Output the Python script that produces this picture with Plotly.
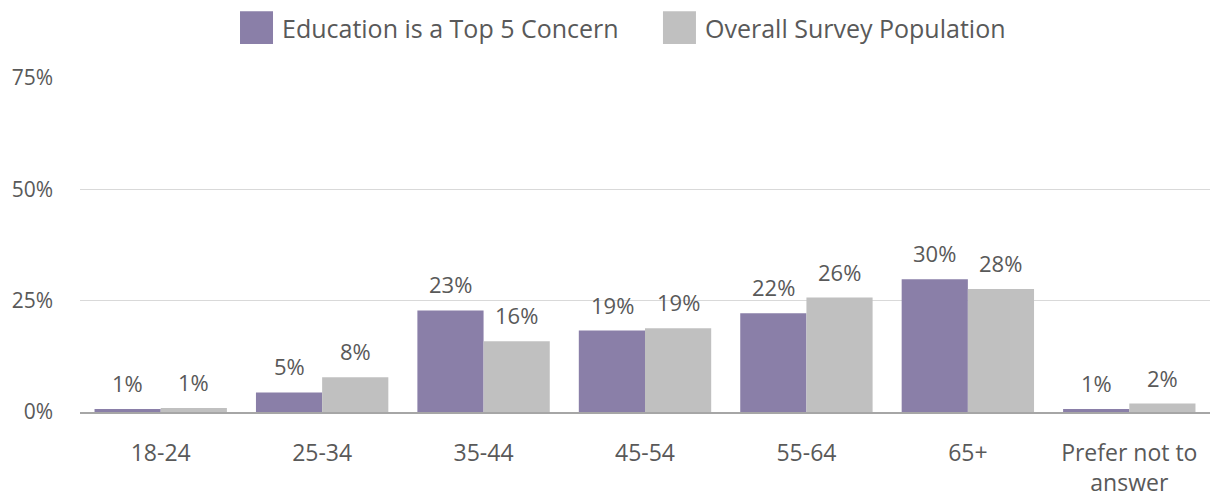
import plotly.graph_objects as go

# Age groups and the share of respondents in each
age_groups = ["18-24", "25-34", "35-44", "45-54", "55-64", "65+", "Prefer not to<br>answer"]
education_vals = [0.7, 4.4, 22.8, 18.3, 22.2, 29.8, 0.7]
overall_vals = [0.9, 7.8, 15.9, 18.8, 25.7, 27.6, 1.9]
education_labels = ["1%", "5%", "23%", "19%", "22%", "30%", "1%"]
overall_labels = ["1%", "8%", "16%", "19%", "26%", "28%", "2%"]
series_names = ["Education is a Top 5 Concern", "Overall Survey Population"]

purple = "#8a7fa8"
grey = "#c0c0c0"
text_col = "#595959"

fig = go.Figure()
fig.add_trace(go.Bar(x=age_groups, y=education_vals, name=series_names[0],
                     marker=dict(color=purple, line=dict(width=0))))
fig.add_trace(go.Bar(x=age_groups, y=overall_vals, name=series_names[1],
                     marker=dict(color=grey, line=dict(width=0))))

# value labels sit a bit higher above the bars than plotly's own outside text
for vals, labels, shift in [(education_vals, education_labels, -33),
                            (overall_vals, overall_labels, 33)]:
    for cat, v, lab in zip(age_groups, vals, labels):
        fig.add_annotation(x=cat, y=v, text=lab, showarrow=False,
                           xshift=shift, yshift=9, yanchor="bottom",
                           font=dict(size=22, color=text_col))

# Manual legend so the swatches are large like the original
legend_items = [(0.1416, purple), (0.5159, grey)]
for (x0, col), name in zip(legend_items, series_names):
    fig.add_shape(type="rect", xref="paper", yref="paper",
                  x0=x0, x1=x0 + 0.0292, y0=1.102, y1=1.200,
                  fillcolor=col, line=dict(width=0))
    fig.add_annotation(xref="paper", yref="paper", x=x0 + 0.035, y=1.151,
                       text=name, showarrow=False, xanchor="left", yanchor="middle",
                       font=dict(size=25, color=text_col))

# page has an 8px body margin, so the figure is sized/margined to compensate
fig.update_layout(
    barmode="group",
    bargap=0.18,
    bargroupgap=0,
    showlegend=False,
    width=1212,
    height=489,
    margin=dict(l=72, r=10, t=70, b=85, autoexpand=False),
    plot_bgcolor="white",
    paper_bgcolor="white",
    font=dict(family="Open Sans", color=text_col),
    xaxis=dict(
        tickfont=dict(size=23, color=text_col),
        showline=True, linecolor="#a6a6a6", linewidth=2,
        ticks="", ticklabelstandoff=19,
    ),
    yaxis=dict(
        range=[0, 75],
        tickvals=[0, 25, 50, 75],
        ticktext=["0%", "25%", "50%", "75%"],
        tickfont=dict(size=21, color=text_col),
        showgrid=True, gridcolor="#d9d9d9", gridwidth=1,
        zeroline=False, ticklabelstandoff=26,
    ),
)

fig.write_html("out.html")
